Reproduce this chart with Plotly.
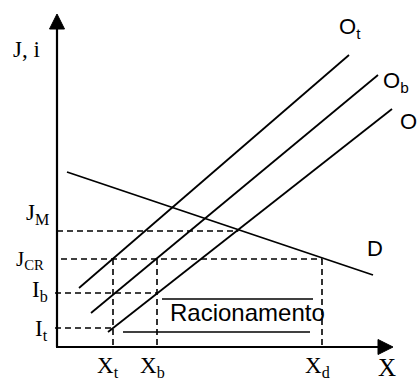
import plotly.graph_objects as go

# ---- diagram values (units: origin at the corner of the axes) ----
x_tick_labels = ["X<sub>t</sub>", "X<sub>b</sub>", "X<sub>d</sub>"]
x_tick_vals = [56, 100, 265]

y_tick_labels = ["J<sub>M</sub>", "J<sub>CR</sub>", "I<sub>b</sub>", "I<sub>t</sub>"]
y_tick_vals = [116, 88, 54, 19]

supply_names = ["O<sub>t</sub>", "O<sub>b</sub>", "O"]
supply_x = [[22, 292], [34, 321], [51, 335]]
supply_y = [[59, 292], [34, 272], [15, 238]]

demand_name = "D"
demand_x = [10, 316]
demand_y = [175, 72]

rationing_label = "Racionamento"
rationing_x = [[105, 256], [66, 253]]
rationing_y = [48, 15]

axis_x_end = 336
axis_y_end = 333

# ---- derived values ----
Xt, Xb, Xd = x_tick_vals
JM, JCR, Ib, It = y_tick_vals

# market equilibrium: intersection of O and D
sO = (supply_y[2][1] - supply_y[2][0]) / (supply_x[2][1] - supply_x[2][0])
sD = (demand_y[1] - demand_y[0]) / (demand_x[1] - demand_x[0])
x_eq = (demand_y[0] - sD * demand_x[0] - supply_y[2][0] + sO * supply_x[2][0]) / (sO - sD)

fig = go.Figure()
BLACK = "#000000"
solid = dict(color=BLACK, width=1.8)
dash = dict(color=BLACK, width=1.6, dash="6px,4px")


def add_line(xs, ys, style):
    fig.add_trace(go.Scatter(x=xs, y=ys, mode="lines", line=style,
                             hoverinfo="skip", showlegend=False))


# dashed guides
add_line([0, x_eq], [JM, JM], dash)
add_line([4, Xd], [JCR, JCR], dash)
add_line([Xd, Xd], [JCR, 0], dash)
add_line([-2, Xb], [Ib, Ib], dash)
add_line([-2, Xt], [It, It], dash)
add_line([Xt, Xt], [JCR, 0], dash)
add_line([Xb, Xb], [JCR, 0], dash)

# supply and demand curves
for xs, ys in zip(supply_x, supply_y):
    add_line(xs, ys, solid)
add_line(demand_x, demand_y, solid)

# rationing bars
for xs, y in zip(rationing_x, rationing_y):
    add_line(xs, [y, y], dict(color=BLACK, width=1.6))

# axes
axis_style = dict(color=BLACK, width=2.2)
add_line([0, 0], [0, axis_y_end - 8], axis_style)
add_line([-1, axis_x_end - 8], [0, 0], axis_style)
ah = 15
aw = 7.5
fig.add_trace(go.Scatter(x=[-aw, aw, 0, -aw], y=[axis_y_end - ah, axis_y_end - ah, axis_y_end, axis_y_end - ah],
                         mode="lines", fill="toself", fillcolor=BLACK, line=dict(color=BLACK, width=1),
                         hoverinfo="skip", showlegend=False))
fig.add_trace(go.Scatter(x=[axis_x_end - ah, axis_x_end - ah, axis_x_end, axis_x_end - ah], y=[-aw, aw, 0, -aw],
                         mode="lines", fill="toself", fillcolor=BLACK, line=dict(color=BLACK, width=1),
                         hoverinfo="skip", showlegend=False))

serif = dict(family="Liberation Serif, Times New Roman, serif", size=23, color=BLACK)
sans = dict(family="Liberation Sans, Arial, sans-serif", size=22, color=BLACK)

ann = []


def label(text, x, y, font, xanchor="center", yanchor="middle"):
    ann.append(dict(text=text, x=x, y=y, xref="x", yref="y", showarrow=False,
                    font=font, xanchor=xanchor, yanchor=yanchor))


label("J, i", -31, 298, serif)
label(y_tick_labels[0], -20, JM + 17, serif)
label(y_tick_labels[1], -27, JCR - 1, dict(serif, size=21))
label(y_tick_labels[2], -17, Ib + 2, serif)
label(y_tick_labels[3], -16, It - 2, serif)
for t, v in zip(x_tick_labels, x_tick_vals):
    label(t, v - 5, -36, serif, yanchor="bottom")
label("X", 330, -36, dict(serif, size=25), yanchor="bottom")

label(supply_names[0], supply_x[0][1] + 1, supply_y[0][1] + 27, sans)
label(supply_names[1], supply_x[1][1] + 18, supply_y[1][1] - 7, sans)
label(supply_names[2], supply_x[2][1] + 16, supply_y[2][1] - 12, sans)
label(demand_name, demand_x[1] + 2, demand_y[1] + 27, sans)
label(rationing_label, (rationing_x[0][0] + rationing_x[0][1]) / 2 + 10, (rationing_y[0] + rationing_y[1]) / 2 + 3,
      dict(sans, size=24))

fig.update_layout(
    width=418, height=383, autosize=False,
    margin=dict(l=0, r=0, t=0, b=0, pad=0),
    paper_bgcolor="white", plot_bgcolor="white",
    xaxis=dict(range=[-57, 361], visible=False, fixedrange=True),
    yaxis=dict(range=[-36, 347], visible=False, fixedrange=True),
    annotations=ann,
    showlegend=False,
)

fig.write_html("out.html", config={"displayModeBar": False},
               post_script="document.body.style.margin='0';document.body.style.overflow='hidden';")
